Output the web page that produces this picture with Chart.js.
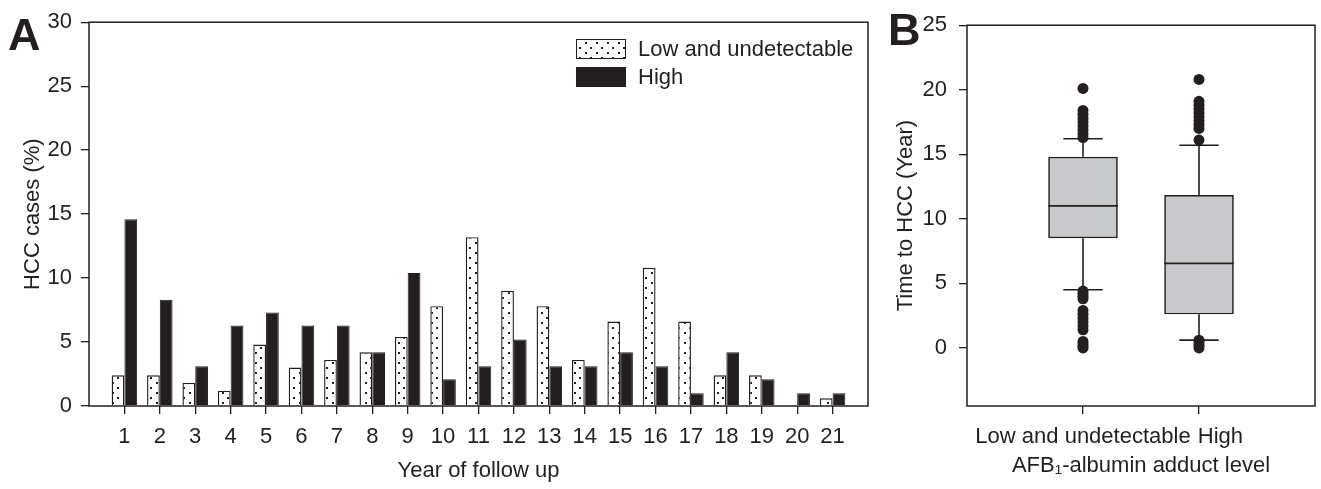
<!DOCTYPE html>
<html>
<head>
<meta charset="utf-8">
<script src="https://cdn.jsdelivr.net/npm/chart.js@4.4.1/dist/chart.umd.min.js"></script>
<style>
  html, body { margin: 0; padding: 0; background: #fff; }
  #wrapA { position: absolute; left: 0; top: 0; width: 880px; height: 489px; }
  #wrapB { position: absolute; left: 880px; top: 0; width: 441px; height: 489px; }
</style>
</head>
<body>
<div id="wrapA"><canvas id="chartA"></canvas></div>
<div id="wrapB"><canvas id="chartB"></canvas></div>
<script>
// panel A: HCC cases (%) by year of follow up
const years = [1, 2, 3, 4, 5, 6, 7, 8, 9, 10, 11, 12, 13, 14, 15, 16, 17, 18, 19, 20, 21];
const lowPct = [2.4, 2.4, 1.8, 1.2, 4.8, 3.0, 3.6, 4.2, 5.4, 7.8, 13.2, 9.0, 7.8, 3.6, 6.6, 10.8, 6.6, 2.4, 2.4, 0, 0.6];
const highPct = [14.6, 8.3, 3.1, 6.3, 7.3, 6.3, 6.3, 4.2, 10.4, 2.1, 3.1, 5.2, 3.1, 3.1, 4.2, 3.1, 1.0, 4.2, 2.1, 1.0, 1.0];
const seriesNames = ['Low and undetectable', 'High'];

// panel B: time to HCC (year) box plots
const groups = ['Low and undetectable', 'High'];
const groupPos = [1, 2];
const q1 = [8.5, 2.6];
const median = [11.0, 6.55];
const q3 = [14.8, 11.85];
const whiskerLow = [4.5, 0.6];
const whiskerHigh = [16.2, 15.7];
const outliersLow = [20.1, 18.4, 18.1, 17.8, 17.5, 17.2, 16.9, 16.6, 16.3,
                     4.4, 4.2, 4.0, 3.8, 2.9, 2.6, 2.3, 2.0, 1.7, 1.4, 0.5, 0.3, 0.1, 0.0];
const outliersHigh = [20.8, 19.1, 18.8, 18.5, 18.2, 17.9, 17.6, 17.3, 17.0, 16.1,
                      0.6, 0.4, 0.2, 0.0];

const FONT = '"Liberation Sans", Arial, sans-serif';
const INK = '#231f20';
const f22 = { family: FONT, size: 22 };

function dotPattern() {
  const c = document.createElement('canvas');
  c.width = 11; c.height = 10;
  const g = c.getContext('2d');
  g.fillStyle = '#fff';
  g.fillRect(0, 0, 11, 10);
  g.fillStyle = INK;
  g.fillRect(2, 2, 2, 2);
  g.fillRect(7, 7, 2, 2);
  return g.createPattern(c, 'repeat');
}

const frame = {
  id: 'frame',
  afterDatasetsDraw(chart) {
    const { ctx, chartArea: a } = chart;
    ctx.save();
    ctx.strokeStyle = INK;
    ctx.lineWidth = 1.5;
    ctx.strokeRect(a.left, a.top, a.right - a.left, a.bottom - a.top);
    ctx.restore();
  }
};

function panelLetter(letter, x, y) {
  return {
    id: 'letter' + letter,
    afterDraw(chart) {
      const ctx = chart.ctx;
      ctx.save();
      ctx.fillStyle = INK;
      ctx.font = 'bold 45px ' + FONT;
      ctx.textBaseline = 'alphabetic';
      ctx.fillText(letter, x, y);
      ctx.restore();
    }
  };
}

const legendA = {
  id: 'legendA',
  afterDraw(chart) {
    const ctx = chart.ctx;
    ctx.save();
    chart.data.datasets.forEach((ds, i) => {
      const y = 39 + i * 28;
      ctx.fillStyle = ds.backgroundColor;
      ctx.fillRect(576, y, 50, 20);
      ctx.strokeStyle = INK;
      ctx.lineWidth = 1;
      ctx.strokeRect(576.5, y + 0.5, 49, 19);
      ctx.fillStyle = INK;
      ctx.font = '22px ' + FONT;
      ctx.textBaseline = 'middle';
      ctx.fillText(ds.label, 638, y + 11);
    });
    ctx.restore();
  }
};

new Chart(document.getElementById('chartA'), {
  type: 'bar',
  data: {
    datasets: [
      {
        label: seriesNames[0],
        data: years.map((x, i) => ({ x, y: lowPct[i] })),
        backgroundColor: dotPattern(),
        borderColor: INK,
        borderWidth: 1.4
      },
      {
        label: seriesNames[1],
        data: years.map((x, i) => ({ x, y: highPct[i] })),
        backgroundColor: INK,
        borderColor: INK,
        borderWidth: 1
      }
    ]
  },
  options: {
    responsive: true,
    maintainAspectRatio: false,
    animation: false,
    layout: { padding: { left: 0, right: 12, top: 15, bottom: 0 } },
    datasets: { bar: { categoryPercentage: 0.72, barPercentage: 1 } },
    plugins: { legend: { display: false }, tooltip: { enabled: false } },
    scales: {
      x: {
        type: 'linear',
        min: 0,
        max: 22,
        offset: false,
        afterBuildTicks: s => { s.ticks = years.map(v => ({ value: v })); },
        afterFit: s => { s.height = 83; },
        ticks: { autoSkip: false, maxRotation: 0, padding: 10, font: f22, color: INK },
        grid: { offset: false, drawOnChartArea: false, drawTicks: true, tickLength: 8, color: INK, lineWidth: 1.3 },
        border: { display: false },
        title: { display: true, text: 'Year of follow up', font: f22, color: INK, padding: { top: 0, bottom: 5 } }
      },
      y: {
        min: 0,
        max: 30,
        afterFit: s => { s.width = 89; },
        ticks: { stepSize: 5, padding: 9, font: f22, color: INK },
        grid: { drawOnChartArea: false, drawTicks: true, tickLength: 8, color: INK, lineWidth: 1.3 },
        border: { display: false },
        title: { display: true, text: 'HCC cases (%)', font: f22, color: INK, padding: { top: 20, bottom: 0 } }
      }
    }
  },
  plugins: [frame, legendA, panelLetter('A', 8, 50)]
});

const boxLines = {
  id: 'boxLines',
  beforeDatasetsDraw(chart) {
    const { ctx, scales: { x, y } } = chart;
    ctx.save();
    ctx.strokeStyle = INK;
    ctx.lineWidth = 1.6;
    groupPos.forEach((g, i) => {
      const cx = x.getPixelForValue(g);
      const half = x.getPixelForValue(g + 0.17) - cx;
      ctx.beginPath();
      ctx.moveTo(cx, y.getPixelForValue(q3[i]));
      ctx.lineTo(cx, y.getPixelForValue(whiskerHigh[i]));
      ctx.moveTo(cx, y.getPixelForValue(q1[i]));
      ctx.lineTo(cx, y.getPixelForValue(whiskerLow[i]));
      ctx.moveTo(cx - half, y.getPixelForValue(whiskerHigh[i]));
      ctx.lineTo(cx + half, y.getPixelForValue(whiskerHigh[i]));
      ctx.moveTo(cx - half, y.getPixelForValue(whiskerLow[i]));
      ctx.lineTo(cx + half, y.getPixelForValue(whiskerLow[i]));
      ctx.stroke();
    });
    ctx.restore();
  },
  afterDatasetsDraw(chart) {
    const { ctx, scales: { x, y } } = chart;
    ctx.save();
    ctx.strokeStyle = INK;
    ctx.lineWidth = 1.6;
    groupPos.forEach((g, i) => {
      const l = x.getPixelForValue(g - 0.3);
      const r = x.getPixelForValue(g + 0.3);
      const my = y.getPixelForValue(median[i]);
      ctx.beginPath();
      ctx.moveTo(l, my);
      ctx.lineTo(r, my);
      ctx.stroke();
    });
    ctx.restore();
  }
};

new Chart(document.getElementById('chartB'), {
  type: 'bar',
  data: {
    datasets: [
      {
        type: 'bar',
        data: groupPos.map((x, i) => ({ x, y: [q1[i], q3[i]] })),
        backgroundColor: '#c8c9cb',
        borderColor: INK,
        borderWidth: 1.7,
        borderSkipped: false,
        categoryPercentage: 1,
        barPercentage: 0.6,
        order: 2
      },
      {
        type: 'scatter',
        data: outliersLow.map(v => ({ x: groupPos[0], y: v }))
          .concat(outliersHigh.map(v => ({ x: groupPos[1], y: v }))),
        pointRadius: 5.5,
        pointBackgroundColor: INK,
        pointBorderWidth: 0,
        order: 1
      }
    ]
  },
  options: {
    responsive: true,
    maintainAspectRatio: false,
    animation: false,
    layout: { padding: { left: 0, right: 6, top: 17, bottom: 0 } },
    plugins: { legend: { display: false }, tooltip: { enabled: false } },
    scales: {
      x: {
        type: 'linear',
        min: 0,
        max: 3,
        offset: false,
        afterBuildTicks: s => { s.ticks = groupPos.map(v => ({ value: v })); },
        afterFit: s => { s.height = 83; },
        ticks: {
          autoSkip: false, maxRotation: 0, padding: 10, font: f22, color: INK,
          callback: (v, i) => (i === 1 ? '       ' : '') + groups[i]
        },
        grid: { offset: false, drawOnChartArea: false, drawTicks: true, tickLength: 8, color: INK, lineWidth: 1.3 },
        border: { display: false },
        title: { display: true, text: 'AFB\u2081-albumin adduct level', font: f22, color: INK, padding: { top: 0, bottom: 10 } }
      },
      y: {
        min: -4.5,
        max: 25,
        afterBuildTicks: s => { s.ticks = s.ticks.filter(t => t.value >= 0); },
        afterFit: s => { s.width = 87; },
        ticks: { stepSize: 5, padding: 12, font: f22, color: INK },
        grid: { drawOnChartArea: false, drawTicks: true, tickLength: 8, color: INK, lineWidth: 1.3 },
        border: { display: false },
        title: { display: true, text: 'Time to HCC (Year)', font: f22, color: INK, padding: { top: 13, bottom: 0 } }
      }
    }
  },
  plugins: [frame, boxLines, panelLetter('B', 8, 45)]
});
</script>
</body>
</html>
